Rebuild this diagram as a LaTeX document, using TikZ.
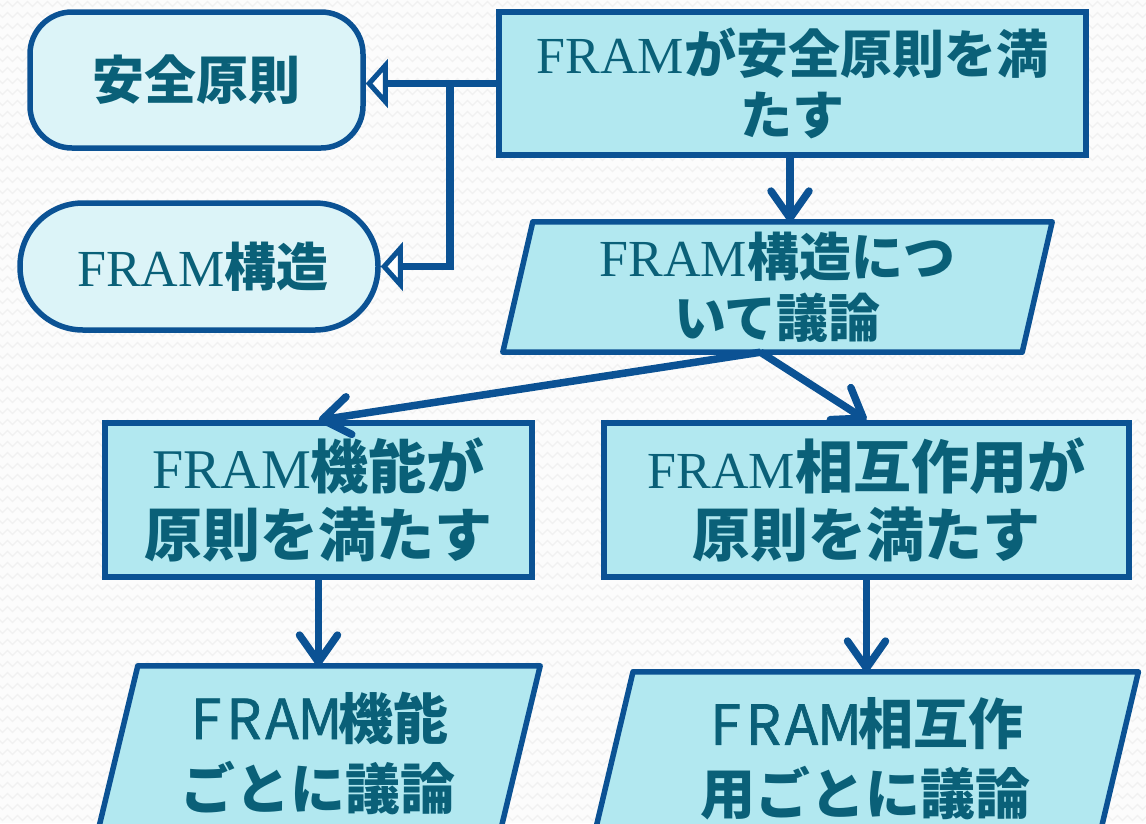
\documentclass[tikz,border=0pt]{standalone}
\usepackage{fontspec}
\setmainfont{Liberation Serif}
\newfontfamily\jpfont{Noto Sans CJK JP}
\newfontfamily\jpmed[FakeBold=1.3]{Noto Sans CJK JP}
\usetikzlibrary{arrows.meta,decorations.pathmorphing}
\definecolor{bordc}{RGB}{11,82,148}
\definecolor{boxc}{RGB}{178,232,240}
\definecolor{rndc}{RGB}{220,244,248}
\definecolor{txtc}{RGB}{10,96,120}
\definecolor{patc}{RGB}{241,241,241}
\definecolor{bgc}{RGB}{252,252,252}
\newcommand\jb{\jpfont\bfseries}
\newcommand\rmf[1]{{\rmfamily\mdseries #1}}
\newcommand\wl[1]{\makebox[0.69em]{\jpmed\mdseries #1}}
\pgfdeclarelayer{bgzero}
\pgfdeclarelayer{bgone}
\pgfsetlayers{bgzero,bgone,main}
\tikzset{
  box/.style={draw=bordc, line width=5.5pt, fill=boxc, text=txtc, align=center, inner sep=0pt},
  rbox/.style={box, fill=rndc},
  ptext/.style={text=txtc, align=center, inner sep=0pt},
  pshape/.style={draw=bordc, line width=5.5pt, fill=boxc, line join=round},
  arr/.style={draw=bordc, line width=7.5pt, -{Straight Barb[round,length=27pt,width=38pt]}},
  opn/.style={draw=bordc, line width=7.5pt, -{Triangle[length=22pt,width=48pt,fill=white,line width=5pt]}},
  pat/.style={draw=patc, line width=1.2pt, decorate, decoration={zigzag, segment length=10pt, amplitude=2.5pt}},
  fa/.style={font={\jb\fontsize{52}{61}\selectfont}},
  fb/.style={font={\jb\fontsize{58}{68}\selectfont}},
  fc/.style={font={\jb\fontsize{55}{70}\selectfont}}
}
\begin{document}
\begin{tikzpicture}[x=1pt,y=-1pt]
\useasboundingbox (0,0) rectangle (1146,823);
\clip (0,0) rectangle (1146,823);
\begin{pgfonlayer}{bgzero}
\fill[bgc] (0,0) rectangle (1146,823);
\foreach \r in {0,...,75} \draw[pat] (-5,{\r*11+4}) -- (1155,{\r*11+4});
\end{pgfonlayer}

% nodes
\node[box, fa, minimum width=587pt, minimum height=143pt] (T) at (792.5,83.5) {\rmf{FRAM}が安全原則を満\\たす};
\node[rbox, fa, minimum width=333pt, minimum height=136pt, rounded corners=42pt] (S) at (196.5,80) {安全原則};
\node[rbox, fa, minimum width=358pt, minimum height=127pt, rounded corners=63pt] (F) at (199,266.5) {\hspace*{8pt}\rmf{FRAM}構造};
\node[ptext, fa, minimum width=519pt, minimum height=130pt] (P) at (777.5,287) {\rmf{FRAM}構造につ\\いて議論};
\node[box, fb, minimum width=427pt, minimum height=154pt] (L) at (318.5,500) {\rmf{\fontsize{56}{68}\selectfont FRAM}機能が\\原則を満たす};
\node[box, fb, minimum width=525pt, minimum height=154pt] (R) at (866.5,500) {\rmf{\fontsize{52}{68}\selectfont FRAM}相互作用が\\原則を満たす};
\node[ptext, fc, minimum width=402pt, minimum height=174pt] (BL) at (318,753) {\wl{F}\wl{R}\wl{A}\wl{M}機能\\ごとに議論};
\node[ptext, fc, minimum width=505pt, minimum height=174pt] (BR) at (865,759) {\wl{F}\wl{R}\wl{A}\wl{M}相互作\\用ごとに議論};

\begin{pgfonlayer}{bgone}
\draw[pshape] ([xshift=15pt]P.north west) -- ([xshift=15pt]P.north east) -- ([xshift=-15pt]P.south east) -- ([xshift=-15pt]P.south west) -- cycle;
\draw[pshape] ([xshift=21pt]BL.north west) -- ([xshift=21pt]BL.north east) -- ([xshift=-21pt]BL.south east) -- ([xshift=-21pt]BL.south west) -- cycle;
\draw[pshape] ([xshift=20.7pt]BR.north west) -- ([xshift=20.7pt]BR.north east) -- ([xshift=-20.7pt]BR.south east) -- ([xshift=-20.7pt]BR.south west) -- cycle;
\end{pgfonlayer}

% connectors
\coordinate (J) at (450,83.5);
\draw[opn] (T.west) -- (T.west -| S.east);
\draw[opn] (J) |- (F.east);
\draw[arr] (T.south -| 790,0) -- (P.north -| 790,0);
\draw[arr] ([xshift=-17pt]P.south) -- (L.north);
\draw[arr] ([xshift=-17pt]P.south) -- (R.north);
\draw[arr] (L.south) -- (L.south |- BL.north);
\draw[arr] (R.south) -- (R.south |- BR.north);
\end{tikzpicture}
\end{document}
